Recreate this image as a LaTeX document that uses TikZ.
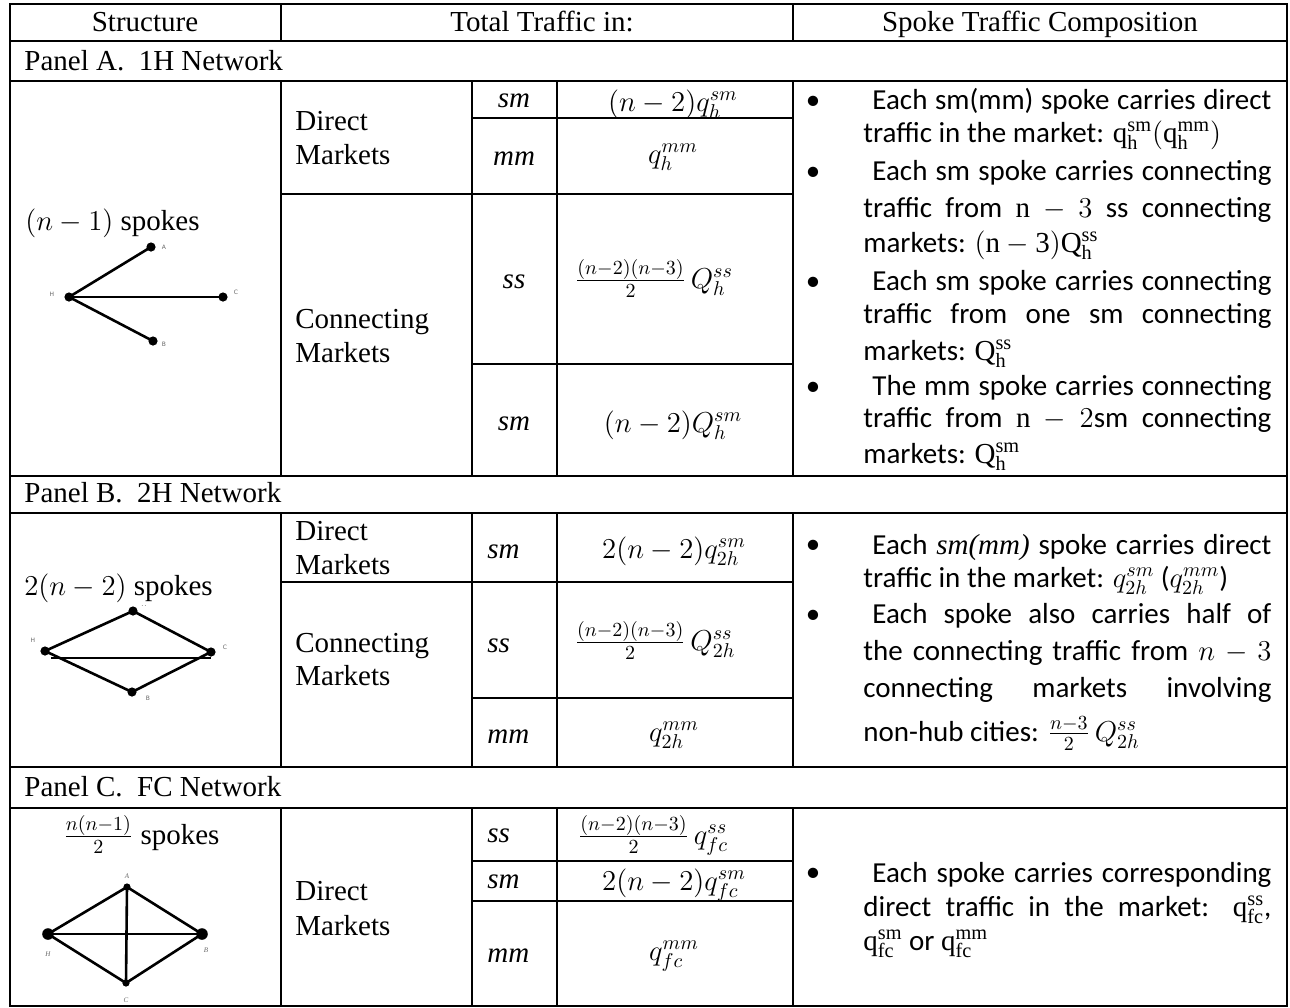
\documentclass[tikz,border=0pt]{standalone}
\usepackage{fontspec}
\setmainfont{Liberation Serif}
\newfontfamily\calfont{Carlito}
\newfontfamily\lblfont{DejaVu Sans}
\newcommand\jline[1]{\makebox[204pt][s]{#1}}
\begin{document}
\begin{tikzpicture}[x=0.5pt,y=-0.5pt,
  grid/.style={line width=1.3pt, line cap=rect},
  tnr/.style={font=\fontsize{14.5pt}{17pt}\selectfont, inner sep=0pt},
  cal/.style={font=\calfont\fontsize{14.5pt}{17pt}\selectfont, inner sep=0pt, anchor=base west},
  lbl/.style={font=\lblfont\fontsize{3pt}{3pt}\selectfont, text=black!60, inner sep=0pt},
  lbli/.style={font=\rmfamily\itshape\fontsize{3.5pt}{3.5pt}\selectfont, text=black!60, inner sep=0pt},
  dot/.style={circle, fill=black, inner sep=0pt, minimum size=4.6pt},
  bigdot/.style={circle, fill=black, inner sep=0pt, minimum size=5.8pt},
  smalldot/.style={circle, fill=black, inner sep=0pt, minimum size=3.6pt},
  spoke/.style={line width=1.3pt},
]
\useasboundingbox (0,0) rectangle (1290,1007);

% ---------- header ----------
\node[tnr, anchor=base] (hStruct) at (145,31) {Structure};
\node[tnr, anchor=base] (hTotal) at (542,31) {Total Traffic in:};
\node[tnr, anchor=base] (hSpoke) at (1040,31) {Spoke Traffic Composition};

% ---------- panel titles ----------
\node[tnr, anchor=base west] (pA) at (24,70) {Panel A.\ \ 1H Network};
\node[tnr, anchor=base west] (pB) at (24,502) {Panel B.\ \ 2H Network};
\node[tnr, anchor=base west] (pC) at (24,796) {Panel C.\ \ FC Network};

% ---------- Panel A ----------
\node[tnr, anchor=base west] (spA) at (25,230) {$(n-1)$ spokes};
\node[dot] (aH) at (69,297) {};
\node[dot] (aA) at (151,247) {};
\node[dot] (aC) at (223,297) {};
\node[dot] (aB) at (153,341) {};
\draw[spoke] (aH.center) -- (aA.center);
\draw[spoke] (aH.center) -- (aC.center);
\draw[spoke] (aH.center) -- (aB.center);
\node[lbl] (aHl) at (52,294) {H};
\node[lbl] (aAl) at (164,247) {A};
\node[lbl] (aCl) at (236,292) {C};
\node[lbl] (aBl) at (164,344) {B};

\node[tnr, anchor=base west] (aD1) at (295,130) {Direct};
\node[tnr, anchor=base west] (aD2) at (295,164) {Markets};
\node[tnr, anchor=base west] (aC1) at (295,328) {Connecting};
\node[tnr, anchor=base west] (aC2) at (295,362) {Markets};

\node[tnr, anchor=base] (aT1) at (514,107) {\textit{sm}};
\node[tnr, anchor=base] (aT2) at (514,165) {\textit{mm}};
\node[tnr, anchor=base] (aT3) at (514,288) {\textit{ss}};
\node[tnr, anchor=base] (aT4) at (514,430) {\textit{sm}};

\node[tnr, anchor=base] (aV1) at (673,111) {$(n-2)q_h^{sm}$};
\node[tnr, anchor=base] (aV2) at (673,163) {$q_h^{mm}$};
\node[tnr, anchor=base] (aV3) at (654,288) {$\frac{(n-2)(n-3)}{2}\,Q_h^{ss}$};
\node[tnr, anchor=base] (aV4) at (673,432) {$(n-2)Q_h^{sm}$};

\node[cal, anchor=base] (aB1) at (813,109) {•};
\node[cal, anchor=base] (aB2) at (813,180) {•};
\node[cal, anchor=base] (aB3) at (813,290) {•};
\node[cal, anchor=base] (aB4) at (813,395) {•};

\node[cal] (aL1) at (863,109) {\jline{\hspace*{4.5pt}Each sm(mm) spoke carries direct}};
\node[cal] (aL2) at (863,142) {traffic in the market: $\mathrm{q_h^{sm}(q_h^{mm})}$};
\node[cal] (aL3) at (863,180) {\jline{\hspace*{4.5pt}Each sm spoke carries connecting}};
\node[cal] (aL4) at (863,217) {\jline{traffic from $\mathrm{n}-3$ ss connecting}};
\node[cal] (aL5) at (863,252) {markets: $\mathrm{(n-3)Q_h^{ss}}$};
\node[cal] (aL6) at (863,290) {\jline{\hspace*{4.5pt}Each sm spoke carries connecting}};
\node[cal] (aL7) at (863,323) {\jline{traffic from one sm connecting}};
\node[cal] (aL8) at (863,360) {markets: $\mathrm{Q_h^{ss}}$};
\node[cal] (aL9) at (863,395) {\jline{\hspace*{4.5pt}The mm spoke carries connecting}};
\node[cal] (aL10) at (863,427) {\jline{traffic from $\mathrm{n}-2$sm connecting}};
\node[cal] (aL11) at (863,463) {markets: $\mathrm{Q_h^{sm}}$};

% ---------- Panel B ----------
\node[lbl] (bAl) at (144,604) {A};
\node[tnr, anchor=base west, fill=white, inner ysep=1.5pt] (spB) at (24,595) {$2(n-2)$ spokes};
\node[dot] (bA) at (133,611) {};
\node[dot] (bH) at (45,651) {};
\node[dot] (bC) at (211,652) {};
\node[dot] (bB) at (132,692) {};
\coordinate (bL) at (51,658);
\coordinate (bR) at (211,658);
\draw[spoke] (bH.center) -- (bA.center) -- (bC.center);
\draw[spoke] (bH.center) -- (bB.center) -- (bC.center);
\draw[spoke] (bL) -- (bR);
\node[lbl] (bHl) at (33,640) {H};
\node[lbl] (bCl) at (225,647) {C};
\node[lbl] (bBl) at (148,698) {B};

\node[tnr, anchor=base west] (bD1) at (295,540) {Direct};
\node[tnr, anchor=base west] (bD2) at (295,574) {Markets};
\node[tnr, anchor=base west] (bC1) at (295,652) {Connecting};
\node[tnr, anchor=base west] (bC2) at (295,685) {Markets};

\node[tnr, anchor=base west] (bT1) at (487,558) {\textit{sm}};
\node[tnr, anchor=base west] (bT2) at (487,652) {\textit{ss}};
\node[tnr, anchor=base west] (bT3) at (487,743) {\textit{mm}};

\node[tnr, anchor=base] (bV1) at (674,558) {$2(n-2)q_{2h}^{sm}$};
\node[tnr, anchor=base] (bV2) at (655,650) {$\frac{(n-2)(n-3)}{2}\,Q_{2h}^{ss}$};
\node[tnr, anchor=base] (bV3) at (674,741) {$q_{2h}^{mm}$};

\node[cal, anchor=base] (bB1) at (813,553) {•};
\node[cal, anchor=base] (bB2) at (813,623) {•};

\node[cal] (bL1) at (863,554) {\jline{\hspace*{4.5pt}Each {\rmfamily\itshape sm(mm)} spoke carries direct}};
\node[cal] (bL2) at (863,587) {traffic in the market: $q_{2h}^{sm}$ ($q_{2h}^{mm}$)};
\node[cal] (bL3) at (863,623) {\jline{\hspace*{4.5pt}Each spoke also carries half of}};
\node[cal] (bL4) at (863,660) {\jline{the connecting traffic from $n-3$}};
\node[cal] (bL5) at (863,697) {\jline{connecting markets involving}};
\node[cal] (bL6) at (863,741) {non-hub cities: $\frac{n-3}{2}\,Q_{2h}^{ss}$};

% ---------- Panel C ----------
\node[tnr, anchor=base west] (spC) at (63,844) {$\frac{n(n-1)}{2}$ spokes};
\node[smalldot] (cA) at (127,887) {};
\node[bigdot] (cH) at (48,934) {};
\node[bigdot] (cB) at (202,934) {};
\node[smalldot] (cC) at (126,983) {};
\draw[spoke] (cH.center) -- (cA.center) -- (cB.center) -- (cC.center) -- (cH.center);
\draw[spoke] (cH.center) -- (cB.center);
\draw[spoke] (cA.center) -- (cC.center);
\node[lbli] (cAl) at (127,876) {A};
\node[lbli] (cHl) at (48,954) {H};
\node[lbli] (cBl) at (206,950) {B};
\node[lbli] (cCl) at (126,1000) {C};

\node[tnr, anchor=base west] (cD1) at (295,900) {Direct};
\node[tnr, anchor=base west] (cD2) at (295,935) {Markets};

\node[tnr, anchor=base west] (cT1) at (487,842) {\textit{ss}};
\node[tnr, anchor=base west] (cT2) at (487,888) {\textit{sm}};
\node[tnr, anchor=base west] (cT3) at (487,962) {\textit{mm}};

\node[tnr, anchor=base] (cV1) at (653,844) {$\frac{(n-2)(n-3)}{2}\,q_{fc}^{ss}$};
\node[tnr, anchor=base] (cV2) at (674,890) {$2(n-2)q_{fc}^{sm}$};
\node[tnr, anchor=base] (cV3) at (674,960) {$q_{fc}^{mm}$};

\node[cal, anchor=base] (cB1) at (813,881) {•};
\node[cal] (cL1) at (863,882) {\jline{\hspace*{4.5pt}Each spoke carries corresponding}};
\node[cal] (cL2) at (863,916) {\jline{direct traffic in the market: $\mathrm{q_{fc}^{ss}}$,}};
\node[cal] (cL3) at (863,950) {$\mathrm{q_{fc}^{sm}}$ or $\mathrm{q_{fc}^{mm}}$};

% ---------- grid ----------
\foreach \yy in {4,41,81,476,513,767,808,1006}
  \draw[grid] (10,\yy) -- (1287,\yy);
\draw[grid] (10,4) -- (10,1006);
\draw[grid] (1287,4) -- (1287,1006);
\foreach \xx in {281,793}
  \foreach \ya/\yb in {4/41,81/476,513/767,808/1006}
    \draw[grid] (\xx,\ya) -- (\xx,\yb);
\foreach \xx in {472,557}
  \foreach \ya/\yb in {81/476,513/767,808/1006}
    \draw[grid] (\xx,\ya) -- (\xx,\yb);
\draw[grid] (472,118) -- (793,118);
\draw[grid] (281,194) -- (793,194);
\draw[grid] (472,364) -- (793,364);
\draw[grid] (281,582) -- (793,582);
\draw[grid] (472,698) -- (793,698);
\draw[grid] (472,861) -- (793,861);
\draw[grid] (472,901) -- (793,901);
\end{tikzpicture}
\end{document}
